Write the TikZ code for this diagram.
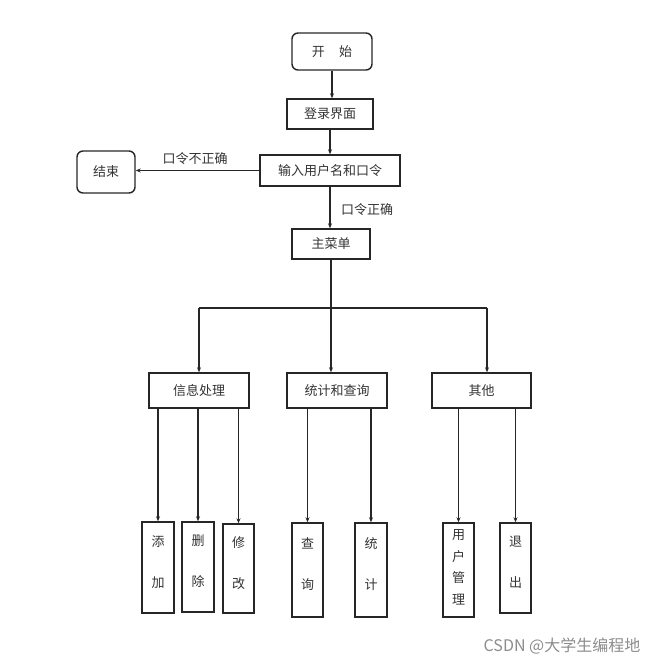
\documentclass[tikz,border=0pt]{standalone}
\usepackage{fontspec}
\newfontfamily\cjk{Noto Sans CJK SC}
\usetikzlibrary{arrows.meta}
\newcommand\lowpad{\rule[-12pt]{0pt}{0pt}}
\begin{document}
\begin{tikzpicture}[x=1pt,y=-1pt,
  font=\cjk\fontsize{13}{15}\selectfont,
  line width=1.3pt, draw=black!85,
  box/.style={draw=black!85, line width=1.4pt, inner sep=0pt, align=center, text=black!80},
  rbox/.style={box, rounded corners=6pt},
  vbox/.style={box, font=\cjk\fontsize{13}{41}\selectfont},
  vboxfour/.style={box, font=\cjk\fontsize{13}{21.5}\selectfont},
  arr/.style={-{Stealth[length=5pt,width=4pt]}},
  lbl/.style={text=black!80}]
\useasboundingbox (0,0) rectangle (659,665);
% top chain
\node[rbox, minimum width=80pt, minimum height=37pt] (start) at (332,51.5) {开\hspace{1.1em}始};
\node[box, minimum width=86pt, minimum height=30pt] (login) at (330,114) {登录界面};
\node[box, minimum width=140pt, minimum height=31pt] (input) at (330,170.5) {输入用户名和口令};
\node[rbox, minimum width=58pt, minimum height=42pt] (end) at (106,172) {结束};
\node[box, minimum width=78pt, minimum height=30pt] (main) at (331,244) {主菜单};
\draw[arr] (start) -- (start |- login.north);
\draw[arr] (login) -- (login |- input.north);
\draw[arr] (input.west) -- (input.west -| end.east);
\node[lbl] (wrong) at (195,159) {口令不正确};
\draw[arr] (input) -- (input |- main.north);
\node[lbl] (right) at (367,210) {口令正确};
% second level
\node[box, minimum width=100pt, minimum height=35pt] (info) at (199,390.5) {信息处理};
\node[box, minimum width=100pt, minimum height=35pt] (stat) at (337,390.5) {统计和查询};
\node[box, minimum width=99pt, minimum height=35pt] (other) at (481.5,390.5) {其他};
\coordinate (bar) at (331,308);
\draw (main.south) -- (main.south |- bar);
\draw (bar -| info.north) -- ([xshift=5.5pt]bar -| other.north);
\draw[arr] (bar -| info.north) -- (info.north);
\draw[arr] (main.south |- bar) -- (main.south |- stat.north);
\draw[arr] ([xshift=5.5pt]bar -| other.north) -- ([xshift=5.5pt]other.north);
% third level
\node[vbox, minimum width=32pt, minimum height=91pt] (add) at (158,567.5) {添\\加\lowpad};
\node[vbox, minimum width=32pt, minimum height=90pt] (del) at (198,567) {删\\除\lowpad};
\node[vbox, minimum width=31pt, minimum height=89pt] (mod) at (238.5,568.5) {修\\改\lowpad};
\node[vbox, minimum width=31pt, minimum height=94pt] (query) at (307.5,570) {查\\询\lowpad};
\node[vbox, minimum width=32pt, minimum height=94pt] (count) at (371,570) {统\\计\lowpad};
\node[vboxfour, minimum width=31pt, minimum height=94pt] (user) at (458.5,570) {用\\户\\管\\理\rule[-6pt]{0pt}{0pt}};
\node[vbox, minimum width=31pt, minimum height=90pt] (quit) at (515.5,568) {退\\出\lowpad};
\foreach \p/\c in {info/add, info/del, info/mod, stat/query, stat/count, other/user, other/quit}
  \draw[arr] (\p.south -| \c.north) -- (\c.north);
% watermark
\node[text=black!45, font=\cjk\fontsize{16}{18}\selectfont] (wm) at (562,646) {CSDN @大学生编程地};
\end{tikzpicture}
\end{document}
